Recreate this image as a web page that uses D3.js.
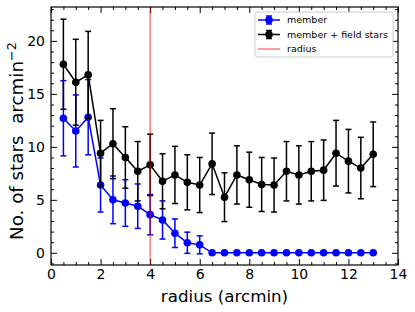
<!DOCTYPE html>
<html>
<head>
<meta charset="utf-8">
<script src="https://cdn.jsdelivr.net/npm/d3@7"></script>
<style>
  body { margin: 0; background: #fff; }
  svg { display: block; font-family: "DejaVu Sans", sans-serif; }
</style>
</head>
<body>
<svg id="chart" width="415" height="312"></svg>
<script>
// radius bins (arcmin)
const radius = [0.5, 1, 1.5, 2, 2.5, 3, 3.5, 4, 4.5, 5, 5.5, 6, 6.5,
  7, 7.5, 8, 8.5, 9, 9.5, 10, 10.5, 11, 11.5, 12, 12.5, 13];
// member stars density and errors
const member = [12.7, 11.5, 12.8, 6.4, 5.0, 4.7, 4.4, 3.6, 3.1, 1.85, 0.95, 0.75, 0,
  0, 0, 0, 0, 0, 0, 0, 0, 0, 0, 0, 0, 0];
const memberErr = [3.55, 3.4, 3.55, 2.55, 2.25, 2.2, 2.1, 1.9, 1.8, 1.35, 1.0, 0.85, 0,
  0, 0, 0, 0, 0, 0, 0, 0, 0, 0, 0, 0, 0];
// member + field stars density and errors
const total = [17.8, 16.1, 16.8, 9.4, 10.3, 9.0, 7.7, 8.3, 6.75, 7.35, 6.65, 6.4, 8.4,
  5.25, 7.35, 6.9, 6.45, 6.4, 7.7, 7.35, 7.7, 7.8, 9.4, 8.65, 8.0, 9.3];
const totalErr = [4.25, 4.05, 4.1, 3.1, 3.3, 2.9, 2.8, 2.9, 2.6, 2.7, 2.6, 2.6, 2.9,
  2.3, 2.75, 2.6, 2.55, 2.55, 2.8, 2.75, 2.8, 2.85, 3.1, 3.0, 2.9, 3.05];
const clusterRadius = 4;

const xTicks = [0, 2, 4, 6, 8, 10, 12, 14];
const yTicks = [0, 5, 10, 15, 20];
const legendItems = ["member", "member + field stars", "radius"];

const width = 415, height = 312;
const margin = { top: 7, right: 17, bottom: 47, left: 51 };

const svg = d3.select("#chart");

const x = d3.scaleLinear().domain([0, 14]).range([margin.left, width - margin.right]);
const y = d3.scaleLinear().domain([-1.15, 23.2]).range([height - margin.bottom, margin.top]);

const xMinor = d3.range(0, 14.01, 0.5).filter((v) => !xTicks.includes(v));
const yMinor = d3.range(-1, 23.5, 1).filter((v) => !yTicks.includes(v));

function styleAxis(g) {
  g.select(".domain").remove();
  g.selectAll(".tick line").attr("stroke", "#000").attr("stroke-width", 1);
  g.selectAll(".tick text").attr("fill", "#000");
}

// major + minor ticks on all four sides, pointing inward
const plotBottom = height - margin.bottom, plotTop = margin.top;
const plotLeft = margin.left, plotRight = width - margin.right;

svg.append("g").attr("transform", `translate(0,${plotBottom})`)
  .call(d3.axisBottom(x).tickValues(xTicks).tickSize(-6).tickPadding(4))
  .attr("font-size", 14).attr("font-family", null)
  .call(styleAxis);
svg.append("g").attr("transform", `translate(0,${plotBottom})`)
  .call(d3.axisBottom(x).tickValues(xMinor).tickSize(-3).tickFormat(""))
  .call(styleAxis);
svg.append("g").attr("transform", `translate(0,${plotTop})`)
  .call(d3.axisTop(x).tickValues(xTicks).tickSize(-6).tickFormat(""))
  .call(styleAxis);
svg.append("g").attr("transform", `translate(0,${plotTop})`)
  .call(d3.axisTop(x).tickValues(xMinor).tickSize(-3).tickFormat(""))
  .call(styleAxis);

svg.append("g").attr("transform", `translate(${plotLeft},0)`)
  .call(d3.axisLeft(y).tickValues(yTicks).tickSize(-6).tickPadding(6))
  .attr("font-size", 14).attr("font-family", null)
  .call(styleAxis);
svg.append("g").attr("transform", `translate(${plotLeft},0)`)
  .call(d3.axisLeft(y).tickValues(yMinor).tickSize(-3).tickFormat(""))
  .call(styleAxis);
svg.append("g").attr("transform", `translate(${plotRight},0)`)
  .call(d3.axisRight(y).tickValues(yTicks).tickSize(-6).tickFormat(""))
  .call(styleAxis);
svg.append("g").attr("transform", `translate(${plotRight},0)`)
  .call(d3.axisRight(y).tickValues(yMinor).tickSize(-3).tickFormat(""))
  .call(styleAxis);

// error bar series
function drawSeries(values, errs, color) {
  const g = svg.append("g");
  const pts = radius.map((r, i) => ({ r, v: values[i], e: errs[i] }));
  const bars = g.append("g").attr("stroke", color).attr("stroke-width", 1.5);
  pts.filter((d) => d.e > 0).forEach((d) => {
    bars.append("line")
      .attr("x1", x(d.r)).attr("x2", x(d.r))
      .attr("y1", y(d.v - d.e)).attr("y2", y(d.v + d.e));
    [d.v - d.e, d.v + d.e].forEach((c) => {
      bars.append("line")
        .attr("x1", x(d.r) - 3).attr("x2", x(d.r) + 3)
        .attr("y1", y(c)).attr("y2", y(c));
    });
  });
  g.append("path")
    .datum(pts)
    .attr("fill", "none")
    .attr("stroke", color)
    .attr("stroke-width", 1.5)
    .attr("d", d3.line().x((d) => x(d.r)).y((d) => y(d.v)));
  g.append("g").selectAll("circle")
    .data(pts)
    .join("circle")
    .attr("cx", (d) => x(d.r))
    .attr("cy", (d) => y(d.v))
    .attr("r", 3.8)
    .attr("fill", color);
}

drawSeries(member, memberErr, "#0000ff");
drawSeries(total, totalErr, "#000000");

// cluster radius marker
svg.append("line")
  .attr("x1", x(clusterRadius)).attr("x2", x(clusterRadius))
  .attr("y1", plotTop).attr("y2", plotBottom)
  .attr("stroke", "#ff0000")
  .attr("stroke-opacity", 0.5)
  .attr("stroke-width", 1.5);

// frame
svg.append("rect")
  .attr("x", plotLeft).attr("y", plotTop)
  .attr("width", plotRight - plotLeft).attr("height", plotBottom - plotTop)
  .attr("fill", "none")
  .attr("stroke", "#000")
  .attr("stroke-width", 1.2);

// axis labels
svg.append("text")
  .attr("x", (plotLeft + plotRight) / 2)
  .attr("y", 302)
  .attr("text-anchor", "middle")
  .attr("font-size", 16.7)
  .text("radius (arcmin)");

const yLabel = svg.append("text")
  .attr("transform", "translate(23,240) rotate(-90)")
  .attr("text-anchor", "start")
  .attr("font-size", 18.3)
  .style("white-space", "pre");
yLabel.append("tspan").text("No. of stars  arcmin");
yLabel.append("tspan").attr("dy", -7.5).attr("font-size", 12.8).text("\u22122");

// legend
const legend = svg.append("g");
legend.append("rect")
  .attr("x", 255).attr("y", 12)
  .attr("width", 138).attr("height", 45)
  .attr("rx", 2.5)
  .attr("fill", "#fff").attr("fill-opacity", 0.8)
  .attr("stroke", "#cccccc").attr("stroke-width", 1);

const legendColors = ["#0000ff", "#000000", "#ff0000"];
legendItems.forEach((label, i) => {
  const ly = 20 + i * 14.5;
  const c = legendColors[i];
  const row = legend.append("g");
  if (i < 2) {
    row.append("line").attr("x1", 258).attr("x2", 280).attr("y1", ly).attr("y2", ly)
      .attr("stroke", c).attr("stroke-width", 1.5);
    row.append("line").attr("x1", 269).attr("x2", 269).attr("y1", ly - 4).attr("y2", ly + 4)
      .attr("stroke", c).attr("stroke-width", 1.5);
    [ly - 4, ly + 4].forEach((cy) => row.append("line")
      .attr("x1", 266).attr("x2", 272).attr("y1", cy).attr("y2", cy)
      .attr("stroke", c).attr("stroke-width", 1.5));
    row.append("circle").attr("cx", 269).attr("cy", ly).attr("r", 3.8).attr("fill", c);
  } else {
    row.append("line").attr("x1", 258).attr("x2", 280).attr("y1", ly).attr("y2", ly)
      .attr("stroke", c).attr("stroke-opacity", 0.5).attr("stroke-width", 1.5);
  }
  row.append("text")
    .attr("x", 287).attr("y", ly)
    .attr("dy", "0.35em")
    .attr("font-size", 9.5)
    .text(label);
});
</script>
</body>
</html>
